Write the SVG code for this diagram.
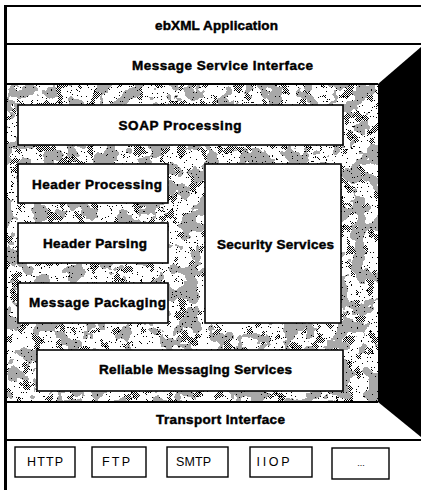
<svg xmlns="http://www.w3.org/2000/svg" width="421" height="490" viewBox="0 0 421 490">
<style>
.box{fill:#fff;stroke:#000;stroke-width:1.6}
.pbox{fill:#fff;stroke:#000;stroke-width:1.4}
.lbl{font-family:"Liberation Sans",Arial,sans-serif;font-weight:bold;font-size:13.5px;text-anchor:middle;fill:#000;stroke:#000;stroke-width:0.45}
.plbl{font-family:"Liberation Sans",Arial,sans-serif;font-size:12.5px;text-anchor:middle;fill:#000}
.ln{stroke:#000;stroke-width:2;fill:none}
</style>
<defs>
<pattern id="checker" width="2" height="2" patternUnits="userSpaceOnUse">
<rect width="2" height="2" fill="#fff"/>
<rect width="1" height="1" fill="#000"/>
<rect x="1" y="1" width="1" height="1" fill="#000"/>
</pattern>
<filter id="fCheckMask" x="0" y="0" width="1" height="1" color-interpolation-filters="sRGB">
<feTurbulence type="fractalNoise" baseFrequency="0.09" numOctaves="3" seed="3"/>
<feColorMatrix type="matrix" values="1 0 0 0 0  1 0 0 0 0  1 0 0 0 0  0 0 0 0 1"/>
<feComponentTransfer>
<feFuncR type="discrete" tableValues="0 0 0 0 0 0 0 0 0 0 0 0 1 1 1 1 1 1 1 1"/>
<feFuncG type="discrete" tableValues="0 0 0 0 0 0 0 0 0 0 0 0 1 1 1 1 1 1 1 1"/>
<feFuncB type="discrete" tableValues="0 0 0 0 0 0 0 0 0 0 0 0 1 1 1 1 1 1 1 1"/>
</feComponentTransfer>
</filter>
<mask id="mCheck" maskUnits="userSpaceOnUse" x="5" y="84" width="373" height="318">
<rect x="5" y="84" width="373" height="318" fill="#fff" filter="url(#fCheckMask)"/>
</mask>
<filter id="fGray" x="0" y="0" width="1" height="1" color-interpolation-filters="sRGB">
<feTurbulence type="fractalNoise" baseFrequency="0.06" numOctaves="3" seed="11"/>
<feColorMatrix type="matrix" values="0 0 0 0 0.66  0 0 0 0 0.66  0 0 0 0 0.66  1 0 0 0 0"/>
<feComponentTransfer>
<feFuncA type="discrete" tableValues="0 0 0 0 0 0 0 0 0 0 0 1 1 1 1 1 1 1 1 1"/>
</feComponentTransfer>
</filter>
<filter id="fDots" x="0" y="0" width="1" height="1" color-interpolation-filters="sRGB">
<feTurbulence type="fractalNoise" baseFrequency="0.8" numOctaves="1" seed="5"/>
<feColorMatrix type="matrix" values="0 0 0 0 0  0 0 0 0 0  0 0 0 0 0  1 0 0 0 0"/>
<feComponentTransfer>
<feFuncA type="discrete" tableValues="0 0 0 0 0 0 0 0 0 0 0 0 0 0 1 1 1 1 1 1"/>
</feComponentTransfer>
</filter>
</defs>
<rect width="421" height="490" fill="#fff"/>
<g id="frame">
<rect x="5" y="84" width="373" height="318" fill="url(#checker)" mask="url(#mCheck)"/>
<rect x="5" y="84" width="373" height="318" fill="#fff" filter="url(#fGray)"/>
<rect x="5" y="84" width="373" height="318" fill="#fff" filter="url(#fDots)"/>
<polygon points="378,84 421,47 421,437 378,402" fill="#000"/>
<line class="ln" x1="5" y1="6" x2="421" y2="6"/>
<line class="ln" x1="5" y1="44" x2="421" y2="44"/>
<line class="ln" x1="5" y1="84" x2="378" y2="84"/>
<line class="ln" x1="5" y1="402" x2="378" y2="402"/>
<line class="ln" x1="5" y1="440" x2="421" y2="440"/>
<line x1="5.5" y1="5" x2="5.5" y2="490" stroke="#000" stroke-width="3"/>
</g>
<g id="ebxml-application"><text class="lbl" x="216.5" y="29.5" textLength="123" lengthAdjust="spacing">ebXML Application</text></g>
<g id="message-service-interface"><text class="lbl" x="222.5" y="69.5" textLength="181" lengthAdjust="spacing">Message Service Interface</text></g>
<g id="soap-processing"><rect class="box" x="18" y="105" width="325" height="40"/><text class="lbl" x="180" y="129.5" textLength="123" lengthAdjust="spacing">SOAP Processing</text></g>
<g id="header-processing"><rect class="box" x="18" y="164" width="150" height="39"/><text class="lbl" x="97" y="188.5" textLength="130" lengthAdjust="spacing">Header Processing</text></g>
<g id="header-parsing"><rect class="box" x="18" y="223" width="150" height="40"/><text class="lbl" x="95" y="247.5" textLength="104" lengthAdjust="spacing">Header Parsing</text></g>
<g id="message-packaging"><rect class="box" x="18" y="283" width="150" height="40"/><text class="lbl" x="97.5" y="306.5" textLength="137" lengthAdjust="spacing">Message Packaging</text></g>
<g id="security-services"><rect class="box" x="205" y="164" width="136" height="159"/><text class="lbl" x="275.5" y="248.5" textLength="117" lengthAdjust="spacing">Security Services</text></g>
<g id="reliable-messaging-services"><rect class="box" x="37" y="350" width="306" height="41"/><text class="lbl" x="195.5" y="373.5" textLength="193" lengthAdjust="spacing">Reliable Messaging Services</text></g>
<g id="transport-interface"><text class="lbl" x="220.5" y="423.5" textLength="129" lengthAdjust="spacing">Transport Interface</text></g>
<g id="http"><rect class="pbox" x="15" y="447" width="60" height="30"/><text class="plbl" x="45" y="466" textLength="36" lengthAdjust="spacing">HTTP</text></g>
<g id="ftp"><rect class="pbox" x="92" y="447" width="54" height="30"/><text class="plbl" x="116" y="466" textLength="28" lengthAdjust="spacing">FTP</text></g>
<g id="smtp"><rect class="pbox" x="167" y="447" width="61" height="30"/><text class="plbl" x="193.5" y="466" textLength="35" lengthAdjust="spacing">SMTP</text></g>
<g id="iiop"><rect class="pbox" x="250" y="447" width="62" height="30"/><text class="plbl" x="273" y="466" textLength="33" lengthAdjust="spacing">IIOP</text></g>
<g id="more"><rect class="pbox" x="332" y="448" width="57" height="31"/><text class="plbl" x="361" y="466" style="font-size:9px">...</text></g>
<g id="connectors"/>
</svg>
